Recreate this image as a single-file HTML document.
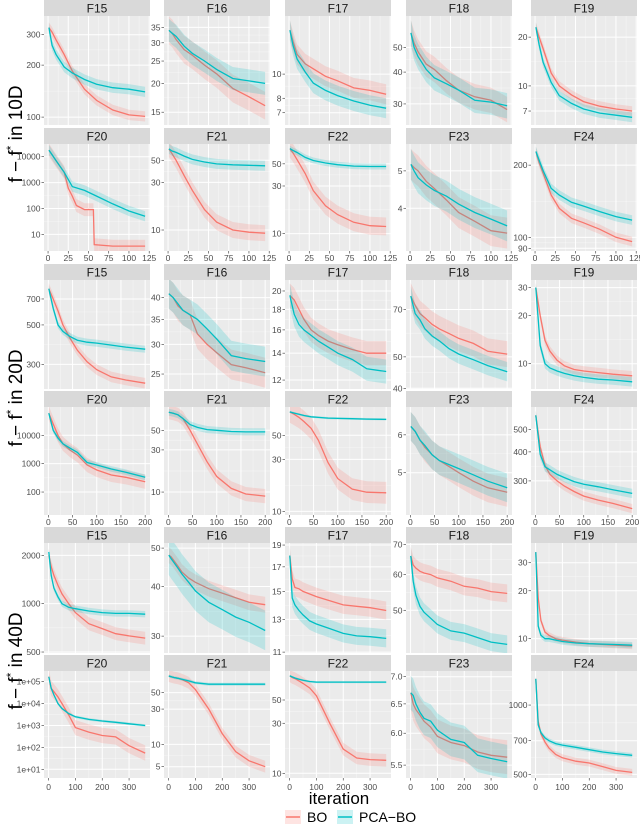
<!DOCTYPE html>
<html><head><meta charset="utf-8">
<style>
html,body{margin:0;padding:0;background:#fff;}
svg{display:block;font-family:"Liberation Sans",Arial,sans-serif;}
</style></head>
<body>
<svg id="chart" width="640" height="826" viewBox="0 0 640 826" xmlns="http://www.w3.org/2000/svg">
  <text transform="translate(22,134) rotate(-90)" text-anchor="middle" font-size="19" fill="#000">f − f<tspan dy="-7" font-size="12">*</tspan><tspan dy="7"> in 10D</tspan></text>
  <text transform="translate(22,398) rotate(-90)" text-anchor="middle" font-size="19" fill="#000">f − f<tspan dy="-7" font-size="12">*</tspan><tspan dy="7"> in 20D</tspan></text>
  <text transform="translate(22,661) rotate(-90)" text-anchor="middle" font-size="19" fill="#000">f − f<tspan dy="-7" font-size="12">*</tspan><tspan dy="7"> in 40D</tspan></text>
  <text x="339" y="804" text-anchor="middle" font-size="17" fill="#000">iteration</text>
  <g>
    <g>
      <rect x="285" y="810" width="16" height="14" fill="#F8766D" fill-opacity="0.2"/>
      <line x1="286" y1="817" x2="300" y2="817" stroke="#F8766D" stroke-width="1.5"/>
      <text x="307" y="822" font-size="14" fill="#000">BO</text>
    </g>
    <g>
      <rect x="337" y="810" width="16" height="14" fill="#00BFC4" fill-opacity="0.2"/>
      <line x1="338" y1="817" x2="352" y2="817" stroke="#00BFC4" stroke-width="1.5"/>
      <text x="359" y="822" font-size="14" fill="#000">PCA−BO</text>
    </g>
  </g>
</svg>
<script>
const funcNames=["F15","F16","F17","F18","F19","F20","F21","F22","F23","F24"];
const dims=[10,20,40];
const xs10=[1,5,10,20,30,45,60,80,100,120];
const xs20=[1,10,20,30,45,60,80,100,130,160,200];
const xs40=[1,10,20,35,50,75,100,150,200,250,300,360];
const boX10_F20=[1,10,20,25,30,35,45,56,57,80,120];
const xTicks10=[0,25,50,75,100,125];
const xTicks20=[0,50,100,150,200];
const xTicks40=[0,100,200,300];

const bo10=[
[330,310,280,230,185,145,125,110,103,101],
[34,33,31,28,26.5,24,22,19,17.5,16],
[15,13.5,12,11,10.5,9.8,9.4,8.8,8.6,8.3],
[57,52,48,43,41,37,34,32,31,28.5],
[23,20,17,12,10,8.8,8,7.5,7.2,7],
[18000,7000,2500,600,300,130,90,90,4,3.5,3.5],
[65,58,50,35,25,16,12,10,9.5,9.3],
[71,64,55,40,27,19,15.5,13,12,11.8],
[5.2,5.1,5,4.7,4.5,4.2,3.9,3.7,3.5,3.45],
[228,205,185,150,132,120,115,108,100,96]];
const pca10=[
[330,260,230,195,180,165,155,148,145,140],
[34,33,32,29,27,25,23,21,20.5,20],
[15,13,11.5,10.2,9.2,8.6,8.2,7.8,7.5,7.3],
[57,50,46,41,38,36,34,31,30.5,29.5],
[23,18,14,10.5,8.7,7.8,7.2,6.8,6.6,6.4],
[18000,12000,7000,2500,700,500,300,150,80,50],
[65,62,60,55,51,48,46,45,44.5,44],
[71,68,65,58,54,51,49,47.5,47,47],
[5.2,5,4.8,4.6,4.45,4.3,4.1,3.9,3.75,3.6],
[228,210,190,160,150,140,135,128,122,118]];
const bo20=[
[800,700,600,500,420,360,310,280,255,245,235],
[41,40,38,37,36,32,30,28.5,26.5,26,25.2],
[19.5,19,18,17,16,15.5,15,14.7,14.3,14,14],
[77,72,68,66,63,61,59,57,55,52,51],
[30,20,14,12,10.5,9.7,9.2,9,8.8,8.6,8.4],
[60000,25000,10000,5000,3000,2000,900,600,400,330,230],
[80,78,75,68,50,35,22,15,11,9.5,9],
[82,78,73,67,58,45,28,20,16,15,14.8],
[6.25,6.1,5.85,5.65,5.45,5.3,5.15,5,4.8,4.65,4.55],
[575,420,350,320,300,285,270,258,248,240,228]];
const pca20=[
[800,620,500,460,430,410,400,395,385,375,365],
[41,40,38.5,37,36,35,33,31,28,27.5,27],
[19.5,17.5,16.5,16,15.5,15,14.5,14,13.5,12.8,12.6],
[77,68,65,61,58,56,53,51,49,47,45],
[30,13,10,9.4,9,8.7,8.4,8.2,8,7.9,7.7],
[60000,15000,8000,5000,3500,2500,1100,900,650,500,330],
[80,78,75,68,58,54,51,50,48.5,48,48],
[82,80,78,76,74,73,72,71.5,71,70.5,70],
[6.25,6.1,5.85,5.7,5.45,5.3,5.2,5.1,4.95,4.8,4.65],
[575,390,345,335,320,310,298,290,283,275,265]];
const bo40=[
[2000,1700,1500,1300,1150,1000,880,750,700,650,630,610],
[48,47.5,46.5,45,43.5,42,41,39.5,38.5,37.5,36.5,36],
[18,16,15.3,15.2,15,14.8,14.6,14.3,14,13.9,13.8,13.6],
[66,63,62,61,60.5,60,59,58,56.5,56,55,54.5],
[35,18,13,11,10.5,10,9.8,9.5,9.3,9.2,9.1,9],
[170000,50000,35000,20000,10000,3000,800,500,350,300,120,55],
[84,82,80,78,75,68,55,30,14,8,6,5],
[85,82,80,76,72,65,55,30,17,14,13.5,13.3],
[6.7,6.5,6.4,6.3,6.2,6.1,5.95,5.85,5.8,5.7,5.65,5.62],
[1300,850,750,690,650,610,590,570,560,540,520,510]];
const pca40=[
[2100,1500,1250,1100,1000,950,930,900,880,870,870,860],
[48,47,46,44.5,43,41,39,36.5,35,33.5,32.5,31],
[18,14.5,14,13.6,13.3,12.9,12.7,12.4,12.1,11.95,11.9,11.8],
[66,58,54,51,49.5,48,46.5,45,44.5,43.5,42.5,42],
[35,12,10.5,10,10,9.8,9.6,9.4,9.3,9.25,9.2,9.1],
[170000,50000,25000,10000,6000,3500,2500,1900,1600,1400,1200,1000],
[84,82,80,78,76,72,68,65,65,65,65,65],
[85,83,81,79,77,75,74,74,74,74,74,74],
[6.7,6.65,6.5,6.35,6.25,6.2,6.05,5.9,5.85,5.65,5.6,5.55],
[1300,820,760,720,700,680,670,655,640,625,615,605]];

const boBand10=[.03,.06,.04,.05,.03,.25,.08,.09,.04,.02];
const pcaBand10=[.03,.05,.04,.05,.03,.2,.05,.03,.04,.02];
const boBand20=[.03,.04,.03,.04,.03,.25,.08,.1,.03,.02];
const pcaBand20=[.02,.04,.03,.03,.03,.1,.04,.01,.03,.02];
const boBand40=[.04,.02,.02,.02,.02,.35,.08,.06,.02,.015];
const pcaBand40=[.02,.05,.02,.02,.02,.06,.02,.01,.02,.01];

const yDomain10=[[90,385],[13.2,39.2],[6.25,17.1],[24.8,66.4],[5.74,27],[2.27,31000],[6.16,72.8],[6.7,79],[3.1,5.87],[87.7,245]];
const yDomain20=[[218,895],[22.8,44.6],[11.4,21.3],[39.8,86.3],[6.94,33.5],[15.5,99500],[5.5,91.8],[9.25,91],[4.08,6.86],[214,624]];
const yDomain40=[[493,2387],[27.2,51.5],[10.95,19.2],[40.2,70.5],[8.13,39.9],[4,308000],[3.52,98],[9.02,94.5],[5.31,7.11],[482,1406]];

const yTicks10=[["100","200","300"],["15","20","25","30","35"],["7","8","10"],["30","40","50"],["7","10","20"],["10","100","1000","10000"],["10","30","50"],["10","30","50"],["4","5"],["90","100","200"]];
const yTicks20=[["300","500","700"],["25","30","35","40"],["12","14","16","18","20"],["40","50","70"],["10","20","30"],["100","1000","10000"],["10","30","50"],["10","30","50"],["5","6"],["300","400","500"]];
const yTicks40=[["500","1000","2000"],["30","40","50"],["11","13","15","17","19"],["50","60","70"],["10","20","30"],["1e+01","1e+02","1e+03","1e+04","1e+05"],["5","10","30","50"],["10","30","50"],["5.5","6.0","6.5","7.0"],["500","700","1000"]];

const BO_COL="#F8766D", PCA_COL="#00BFC4";
const panelLefts=[44,164,285,406,531], PW=106;
const rowBounds=[[[16,125],[144,251]],[[280,389],[407,515]],[[543,653],[671,778]]];
const xLabelY=[261,525,790];
const xDomains=[[-5,126],[-9,210],[-17,378]];
const NS="http://www.w3.org/2000/svg";
const svg=document.getElementById('chart');
function mk(tag,attrs,parent){const e=document.createElementNS(NS,tag);for(const k in attrs)e.setAttribute(k,attrs[k]);(parent||svg).appendChild(e);return e;}

const allBo=[bo10,bo20,bo40], allPca=[pca10,pca20,pca40];
const allXs=[xs10,xs20,xs40], allXT=[xTicks10,xTicks20,xTicks40];
const allBoBand=[boBand10,boBand20,boBand40], allPcaBand=[pcaBand10,pcaBand20,pcaBand40];
const allDom=[yDomain10,yDomain20,yDomain40], allYT=[yTicks10,yTicks20,yTicks40];

dims.forEach((d,gi)=>{
  for(let p=0;p<10;p++){
    const r=Math.floor(p/5), c=p%5;
    const L=panelLefts[c], R=L+PW, T=rowBounds[gi][r][0], B=rowBounds[gi][r][1];
    const xd=xDomains[gi];
    const xScale=v=>L+(v-xd[0])/(xd[1]-xd[0])*PW;
    const dom=allDom[gi][p];
    const l0=Math.log10(dom[0]), l1=Math.log10(dom[1]);
    const yScale=v=>B-(Math.log10(v)-l0)/(l1-l0)*(B-T);
    const g=mk('g',{});
    
    
    const strip=mk('rect',{x:L,y:T-16,width:PW,height:16,fill:'#D9D9D9'},g);
    
    
    const st=mk('text',{x:L+PW/2,y:T-3.5,'text-anchor':'middle','font-size':12,fill:'#1A1A1A'},g);
    
    
    st.textContent=funcNames[p];
    const bg=mk('rect',{x:L,y:T,width:PW,height:B-T,fill:'#EBEBEB'},g);
    
    
    const cid='clip'+gi+'_'+p;
    const cp=mk('clipPath',{id:cid},g);
    mk('rect',{x:L,y:T,width:PW,height:B-T},cp);
    const xt=allXT[gi];
    for(let i=0;i<xt.length-1;i++){
      const xm=xScale((xt[i]+xt[i+1])/2);
      mk('line',{x1:xm,x2:xm,y1:T,y2:B,stroke:'#fff','stroke-width':0.5,'stroke-opacity':0.6},g);
    }
    const yt=allYT[gi][p].map(Number);
    for(let i=0;i<yt.length-1;i++){
      const ym=B-((Math.log10(yt[i])+Math.log10(yt[i+1]))/2-l0)/(l1-l0)*(B-T);
      mk('line',{x1:L,x2:R,y1:ym,y2:ym,stroke:'#fff','stroke-width':0.5,'stroke-opacity':0.6},g);
    }
    xt.forEach(v=>{const x=xScale(v);if(x<=R+0.5)mk('line',{x1:x,x2:x,y1:T,y2:B,stroke:'#fff','stroke-width':1},g);});
    allYT[gi][p].forEach(s=>{
      const y=yScale(Number(s));
      mk('line',{x1:L,x2:R,y1:y,y2:y,stroke:'#fff','stroke-width':1},g);
      mk('line',{x1:L-2.5,x2:L,y1:y,y2:y,stroke:'#333','stroke-width':0.6},g);
      const tl=mk('text',{x:L-3.5,y:y+3,'text-anchor':'end','font-size':8.5,fill:'#4D4D4D'},g);
      
      
      tl.textContent=s;
    });
    if(r===1){
      xt.forEach(v=>{
        const x=xScale(v);
        mk('line',{x1:x,x2:x,y1:B,y2:B+2.5,stroke:'#333','stroke-width':0.6},g);
        const tl=mk('text',{x:x,y:xLabelY[gi],'text-anchor':'middle','font-size':8.5,fill:'#4D4D4D'},g);
        
        
        tl.textContent=String(v);
      });
    }
    const series=[
      {name:'bo',vals:allBo[gi][p],band:allBoBand[gi][p],col:BO_COL},
      {name:'pca-bo',vals:allPca[gi][p],band:allPcaBand[gi][p],col:PCA_COL}];
    const dg=mk('g',{'clip-path':'url(#'+cid+')'},g);
    series.forEach(s=>{
      const xs=(gi===0&&p===5&&s.name==='bo')?boX10_F20:allXs[gi];
      const f=Math.pow(10,s.band);
      const up=s.vals.map((v,i)=>xScale(xs[i]).toFixed(1)+','+yScale(v*f).toFixed(1));
      const lo=s.vals.map((v,i)=>xScale(xs[i]).toFixed(1)+','+yScale(v/f).toFixed(1)).reverse();
      const rb=mk('polygon',{points:up.concat(lo).join(' '),fill:s.col,'fill-opacity':0.2,stroke:'none'},dg);
      
      
      const ln=mk('polyline',{points:s.vals.map((v,i)=>xScale(xs[i]).toFixed(1)+','+yScale(v).toFixed(1)).join(' '),fill:'none',stroke:s.col,'stroke-width':1.3},dg);
      
      
    });
  }
});
</script>
</body></html>
